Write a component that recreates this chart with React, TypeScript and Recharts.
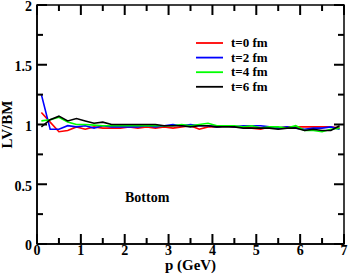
import React from "react";
import { LineChart, Line, XAxis, YAxis, ReferenceArea } from "recharts";

const pValues = [
  0.1, 0.3, 0.5, 0.7, 0.9, 1.1, 1.3, 1.5, 1.7, 1.9, 2.1, 2.3, 2.5, 2.7, 2.9,
  3.1, 3.3, 3.5, 3.7, 3.9, 4.1, 4.3, 4.5, 4.7, 4.9, 5.1, 5.3, 5.5, 5.7, 5.9,
  6.1, 6.3, 6.5, 6.7, 6.9,
];
const t0 = [
  1.1, 1.02, 0.94, 0.95, 0.98, 0.96, 0.98, 0.97, 0.97, 0.97, 0.98, 0.97, 0.98,
  0.97, 0.98, 0.97, 0.98, 0.99, 0.96, 0.98, 0.98, 0.99, 0.98, 0.98, 0.97, 0.96,
  0.98, 0.97, 0.98, 0.98, 0.98, 0.98, 0.98, 0.98, 0.97,
];
const t2 = [
  1.25, 0.96, 0.96, 0.99, 0.98, 0.99, 0.97, 0.99, 0.98, 0.98, 0.98, 0.98, 0.99,
  0.98, 0.99, 1.0, 0.99, 1.0, 0.99, 0.99, 0.98, 0.99, 0.98, 0.99, 0.99, 0.99,
  0.98, 0.97, 0.98, 0.97, 0.96, 0.97, 0.97, 0.98, 0.96,
];
const t4 = [
  1.03, 1.04, 1.06, 1.02, 1.0, 1.0, 0.995, 0.99, 0.99, 0.99, 0.99, 0.99, 0.99,
  0.99, 0.99, 0.99, 1.0, 0.99, 1.0, 1.01, 0.99, 0.99, 0.99, 0.98, 0.99, 0.97,
  0.98, 0.98, 0.97, 0.99, 0.95, 0.95, 0.94, 0.96, 0.97,
];
const t6 = [
  0.98, 1.04, 1.07, 1.03, 1.05, 1.03, 1.01, 1.02, 1.0, 1.0, 1.0, 1.0, 1.0, 1.0,
  0.99, 0.99, 0.99, 0.98, 0.99, 0.99, 0.98, 0.98, 0.98, 0.97, 0.97, 0.97, 0.97,
  0.96, 0.97, 0.97, 0.95, 0.96, 0.95, 0.95, 0.99,
];
const xTicks = [0, 0.5, 1, 1.5, 2, 2.5, 3, 3.5, 4, 4.5, 5, 5.5, 6, 6.5, 7];
const yTicks = [0, 0.25, 0.5, 0.75, 1, 1.25, 1.5, 1.75, 2];

const series = [
  { key: "t0", name: "t=0 fm", color: "#ff0000", values: t0 },
  { key: "t2", name: "t=2 fm", color: "#0000ff", values: t2 },
  { key: "t4", name: "t=4 fm", color: "#00ff00", values: t4 },
  { key: "t6", name: "t=6 fm", color: "#000000", values: t6 },
];

const data = pValues.map((p, i) => {
  const row: Record<string, number> = { p };
  series.forEach((s) => (row[s.key] = s.values[i]));
  return row;
});

const W = 349;
const H = 276;
const MARGIN = { top: 5, right: 5, left: 0, bottom: 0 };
const Y_AXIS_W = 37;
const X_AXIS_H = 32;
// plot box size, used to mirror the ticks on the top and right edges
const PLOT_W = W - Y_AXIS_W - MARGIN.left - MARGIN.right;
const PLOT_H = H - X_AXIS_H - MARGIN.top - MARGIN.bottom;

const FONT = '"Liberation Serif", "Times New Roman", serif';
const halfStep = (v: number) => Math.abs(v * 2 - Math.round(v * 2)) < 1e-6;
const TICK_W = 2;

// inward ticks on both bottom and top edge
const BottomTick = ({ x, y, payload }: any) => {
  const v = payload.value as number;
  const major = Number.isInteger(v);
  const len = major ? 10 : 6;
  const top = y - PLOT_H;
  return (
    <g>
      <rect x={x - TICK_W / 2} y={y - len} width={TICK_W} height={len} fill="#000" />
      <rect x={x - TICK_W / 2} y={top} width={TICK_W} height={len} fill="#000" />
      {major && (
        <text x={x} y={y + 11} textAnchor="middle" fontFamily={FONT} fontWeight="bold" fontSize={14} fill="#000">
          {v}
        </text>
      )}
    </g>
  );
};

// inward ticks on both left and right edge
const LeftTick = ({ x, y, payload }: any) => {
  const v = payload.value as number;
  const major = halfStep(v);
  const len = major ? 10 : 6;
  const right = x + PLOT_W;
  return (
    <g>
      <rect x={x} y={y - TICK_W / 2} width={len} height={TICK_W} fill="#000" />
      <rect x={right - len} y={y - TICK_W / 2} width={len} height={TICK_W} fill="#000" />
      {major && (
        <text x={x - 5} y={y + 1.5} dy="0.35em" textAnchor="end" fontFamily={FONT} fontWeight="bold" fontSize={14} fill="#000">
          {v}
        </text>
      )}
    </g>
  );
};

export default function App() {
  return (
    <div style={{ position: "absolute", left: 0, top: 0, width: W, height: H, background: "#fff" }}>
      <LineChart width={W} height={H} data={data} margin={MARGIN}>
        <XAxis
          dataKey="p"
          type="number"
          domain={[0, 7]}
          ticks={xTicks}
          interval={0}
          tickSize={0}
          tickMargin={0}
          tickLine={false}
          axisLine={{ stroke: "#000", strokeWidth: 1.5 }}
          tick={<BottomTick />}
          height={X_AXIS_H}
          label={{
            content: ({ viewBox }: any) => (
              <text
                x={viewBox.x + viewBox.width / 2}
                y={viewBox.y + 26}
                textAnchor="middle"
                fontFamily={FONT}
                fontWeight="bold"
                fontSize={15}
                fill="#000"
              >
                p (GeV)
              </text>
            ),
          }}
        />
        <YAxis
          type="number"
          domain={[0, 2]}
          ticks={yTicks}
          interval={0}
          tickSize={0}
          tickMargin={0}
          tickLine={false}
          axisLine={{ stroke: "#000", strokeWidth: 1.5 }}
          tick={<LeftTick />}
          width={Y_AXIS_W}
          label={{
            content: ({ viewBox }: any) => {
              const cx = viewBox.x + 12;
              const cy = viewBox.y + viewBox.height / 2;
              return (
                <text
                  x={cx}
                  y={cy}
                  transform={`rotate(-90 ${cx} ${cy})`}
                  textAnchor="middle"
                  fontFamily={FONT}
                  fontWeight="bold"
                  fontSize={15}
                  fill="#000"
                >
                  LV/BM
                </text>
              );
            },
          }}
        />
        <ReferenceArea
          x1={0}
          x2={7}
          y1={0}
          y2={2}
          fill="none"
          fillOpacity={0}
          stroke="#000"
          strokeWidth={1.5}
          ifOverflow="visible"
        />
        {series.map((s) => (
          <Line
            key={s.key}
            dataKey={s.key}
            name={s.name}
            stroke={s.color}
            strokeWidth={1.6}
            dot={false}
            type="linear"
            isAnimationActive={false}
          />
        ))}
      </LineChart>
      <svg width={W} height={H} style={{ position: "absolute", left: 0, top: 0, pointerEvents: "none" }}>
        {series.map((s, i) => (
          <g key={s.key}>
            <line x1={196} y1={43 + i * 14.6} x2={223} y2={43 + i * 14.6} stroke={s.color} strokeWidth={1.8} />
            <text x={231} y={43 + i * 14.6} dy="0.33em" fontFamily={FONT} fontWeight="bold" fontSize={13} fill="#000">
              {s.name}
            </text>
          </g>
        ))}
        <text x={125} y={201.5} fontFamily={FONT} fontWeight="bold" fontSize={14} fill="#000">
          Bottom
        </text>
      </svg>
    </div>
  );
}
